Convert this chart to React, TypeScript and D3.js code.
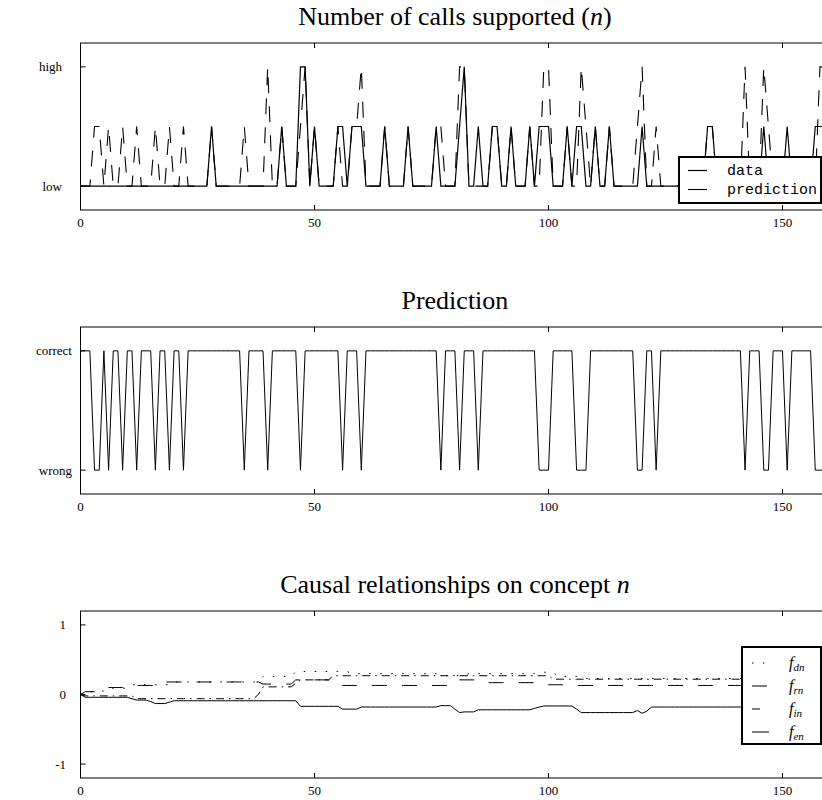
import React from "react";
import * as d3 from "d3";

// ---- data ---------------------------------------------------------------
// time steps 0..159
const steps: number[] = d3.range(0, 160);

// number of calls supported: 0 = low, 0.5 = medium, 1 = high
const callsData: number[] = [
  0, 0, 0, 0, 0, 0, 0, 0, 0, 0,
  0, 0, 0, 0, 0, 0, 0, 0, 0, 0,
  0, 0, 0, 0, 0, 0, 0, 0, 0.5, 0,
  0, 0, 0, 0, 0, 0, 0, 0, 0, 0,
  0, 0, 0, 0.5, 0, 0, 0, 1, 1, 0,
  0.5, 0, 0, 0, 0, 0.5, 0.5, 0, 0.5, 0.5,
  0.5, 0, 0, 0, 0, 0.5, 0, 0, 0, 0,
  0.5, 0, 0, 0, 0, 0, 0.5, 0, 0, 0,
  0, 0.5, 1, 0, 0, 0.5, 0, 0, 0.5, 0.5,
  0, 0, 0.5, 0, 0, 0, 0.5, 0, 0.5, 0.5,
  0.5, 0, 0, 0, 0.5, 0, 0.5, 0.5, 0, 0,
  0.5, 0, 0, 0.5, 0, 0, 0, 0, 0, 0,
  0.5, 0, 0, 0, 0, 0, 0, 0, 0, 0,
  0, 0, 0, 0, 0.5, 0.5, 0, 0, 0, 0,
  0, 0, 0, 0, 0, 0, 0.5, 0, 0, 0,
  0, 0.5, 0, 0, 0, 0, 0, 0.5, 0.5, 0.5,
];

const callsPrediction: number[] = [
  0, 0, 0, 0.5, 0.5, 0, 0.5, 0, 0, 0.5,
  0, 0, 0.5, 0, 0, 0, 0.5, 0, 0, 0.5,
  0, 0, 0.5, 0, 0, 0, 0, 0, 0.5, 0,
  0, 0, 0, 0, 0, 0.5, 0, 0, 0, 0,
  1, 0, 0, 0.5, 0, 0, 0, 0.5, 1, 0,
  0.5, 0, 0, 0, 0, 0.5, 0, 0, 0.5, 0.5,
  1, 0, 0, 0, 0, 0.5, 0, 0, 0, 0,
  0.5, 0, 0, 0, 0, 0, 0.5, 0.5, 0, 0,
  0, 1, 1, 0, 0, 0, 0, 0, 0.5, 0.5,
  0, 0, 0.5, 0, 0, 0, 0.5, 0, 0, 1,
  1, 0, 0, 0, 0.5, 0, 0, 1, 0.5, 0,
  0.5, 0, 0, 0.5, 0, 0, 0, 0, 0, 0.5,
  1, 0, 0, 0.5, 0, 0, 0, 0, 0, 0,
  0, 0, 0, 0, 0.5, 0.5, 0, 0, 0, 0,
  0, 0, 1, 0, 0, 0, 1, 0.5, 0, 0,
  0, 0, 0, 0, 0, 0, 0, 0, 1, 1,
];

// causal weights on concept n
const fDn: number[] = [
  0, 0.02, 0.03, 0.05, 0.05, 0.05, 0.05, 0.09, 0.09, 0.09,
  0.09, 0.14, 0.14, 0.14, 0.14, 0.14, 0.14, 0.14, 0.14, 0.14,
  0.18, 0.18, 0.18, 0.18, 0.18, 0.18, 0.18, 0.18, 0.18, 0.18,
  0.18, 0.18, 0.18, 0.18, 0.18, 0.18, 0.18, 0.18, 0.18, 0.26,
  0.26, 0.26, 0.26, 0.26, 0.26, 0.26, 0.33, 0.33, 0.33, 0.33,
  0.33, 0.33, 0.33, 0.33, 0.33, 0.33, 0.33, 0.33, 0.3, 0.3,
  0.3, 0.3, 0.3, 0.3, 0.3, 0.3, 0.3, 0.3, 0.3, 0.3,
  0.3, 0.3, 0.3, 0.3, 0.3, 0.3, 0.3, 0.27, 0.27, 0.27,
  0.27, 0.27, 0.27, 0.3, 0.3, 0.3, 0.3, 0.3, 0.3, 0.3,
  0.3, 0.3, 0.3, 0.3, 0.3, 0.3, 0.3, 0.3, 0.32, 0.32,
  0.32, 0.32, 0.26, 0.26, 0.26, 0.26, 0.26, 0.23, 0.23, 0.23,
  0.23, 0.23, 0.23, 0.23, 0.23, 0.23, 0.23, 0.23, 0.23, 0.23,
  0.23, 0.23, 0.23, 0.23, 0.23, 0.23, 0.23, 0.23, 0.23, 0.23,
  0.23, 0.23, 0.23, 0.23, 0.23, 0.23, 0.23, 0.23, 0.23, 0.23,
  0.23, 0.23, 0.23, 0.23, 0.23, 0.23, 0.23, 0.23, 0.23, 0.23,
  0.23, 0.23, 0.23, 0.23, 0.23, 0.23, 0.23, 0.23, 0.23, 0.23,
];

const fRn: number[] = [
  0, 0.04, 0.04, 0.04, 0.04, 0.04, 0.1, 0.1, 0.1, 0.1,
  0.1, 0.13, 0.13, 0.13, 0.13, 0.13, 0.13, 0.13, 0.18, 0.18,
  0.18, 0.18, 0.18, 0.18, 0.18, 0.18, 0.18, 0.18, 0.18, 0.18,
  0.18, 0.18, 0.18, 0.18, 0.18, 0.18, 0.18, 0.18, 0.18, 0.15,
  0.15, 0.15, 0.15, 0.15, 0.15, 0.15, 0.21, 0.21, 0.21, 0.21,
  0.21, 0.21, 0.21, 0.21, 0.21, 0.13, 0.13, 0.13, 0.13, 0.13,
  0.13, 0.13, 0.13, 0.13, 0.13, 0.13, 0.13, 0.13, 0.13, 0.13,
  0.13, 0.13, 0.13, 0.13, 0.13, 0.13, 0.13, 0.13, 0.13, 0.13,
  0.21, 0.21, 0.21, 0.21, 0.21, 0.21, 0.17, 0.17, 0.17, 0.17,
  0.17, 0.17, 0.17, 0.17, 0.17, 0.17, 0.17, 0.17, 0.14, 0.14,
  0.14, 0.14, 0.14, 0.14, 0.14, 0.14, 0.13, 0.13, 0.13, 0.13,
  0.13, 0.13, 0.13, 0.13, 0.13, 0.13, 0.13, 0.13, 0.13, 0.13,
  0.13, 0.13, 0.13, 0.13, 0.13, 0.13, 0.13, 0.13, 0.13, 0.13,
  0.13, 0.13, 0.13, 0.13, 0.13, 0.13, 0.13, 0.13, 0.13, 0.13,
  0.13, 0.13, 0.13, 0.13, 0.13, 0.13, 0.13, 0.13, 0.13, 0.13,
  0.13, 0.13, 0.13, 0.13, 0.13, 0.13, 0.13, 0.13, 0.13, 0.13,
];

const fIn: number[] = [
  0, -0.02, -0.02, -0.02, -0.02, -0.02, -0.02, -0.02, -0.02, -0.02,
  -0.02, -0.02, -0.06, -0.06, -0.06, -0.06, -0.06, -0.06, -0.06, -0.06,
  -0.06, -0.06, -0.06, -0.06, -0.06, -0.06, -0.06, -0.06, -0.06, -0.06,
  -0.06, -0.06, -0.06, -0.06, -0.06, -0.06, -0.06, -0.06, 0, 0.11,
  0.11, 0.11, 0.11, 0.11, 0.11, 0.11, 0.16, 0.21, 0.21, 0.21,
  0.21, 0.21, 0.21, 0.21, 0.27, 0.27, 0.27, 0.27, 0.27, 0.27,
  0.27, 0.27, 0.27, 0.27, 0.27, 0.27, 0.27, 0.27, 0.27, 0.27,
  0.27, 0.27, 0.27, 0.27, 0.27, 0.27, 0.27, 0.27, 0.27, 0.27,
  0.27, 0.27, 0.27, 0.27, 0.27, 0.27, 0.27, 0.27, 0.27, 0.27,
  0.27, 0.27, 0.27, 0.27, 0.27, 0.27, 0.27, 0.27, 0.27, 0.27,
  0.27, 0.22, 0.22, 0.22, 0.22, 0.22, 0.22, 0.22, 0.22, 0.22,
  0.22, 0.22, 0.22, 0.22, 0.22, 0.22, 0.22, 0.22, 0.22, 0.22,
  0.22, 0.22, 0.22, 0.22, 0.22, 0.22, 0.22, 0.22, 0.22, 0.22,
  0.22, 0.22, 0.22, 0.22, 0.22, 0.22, 0.22, 0.22, 0.22, 0.22,
  0.22, 0.22, 0.22, 0.22, 0.22, 0.22, 0.22, 0.22, 0.22, 0.22,
  0.22, 0.22, 0.22, 0.22, 0.22, 0.22, 0.22, 0.22, 0.22, 0.22,
];

const fEn: number[] = [
  0, -0.04, -0.04, -0.04, -0.04, -0.04, -0.04, -0.04, -0.04, -0.04,
  -0.04, -0.06, -0.08, -0.08, -0.08, -0.1, -0.13, -0.13, -0.13, -0.11,
  -0.09, -0.09, -0.09, -0.09, -0.09, -0.09, -0.09, -0.09, -0.09, -0.09,
  -0.09, -0.09, -0.09, -0.09, -0.09, -0.09, -0.09, -0.09, -0.09, -0.09,
  -0.09, -0.09, -0.09, -0.09, -0.09, -0.09, -0.09, -0.17, -0.17, -0.17,
  -0.17, -0.17, -0.17, -0.17, -0.17, -0.17, -0.21, -0.21, -0.21, -0.21,
  -0.18, -0.18, -0.18, -0.18, -0.18, -0.18, -0.18, -0.18, -0.18, -0.18,
  -0.18, -0.18, -0.18, -0.18, -0.18, -0.18, -0.18, -0.16, -0.16, -0.16,
  -0.21, -0.26, -0.25, -0.25, -0.25, -0.22, -0.22, -0.22, -0.22, -0.22,
  -0.22, -0.22, -0.22, -0.22, -0.22, -0.22, -0.22, -0.2, -0.18, -0.165,
  -0.165, -0.165, -0.165, -0.165, -0.165, -0.165, -0.21, -0.26, -0.26, -0.26,
  -0.26, -0.26, -0.26, -0.26, -0.26, -0.26, -0.26, -0.26, -0.26, -0.23,
  -0.27, -0.24, -0.18, -0.18, -0.18, -0.18, -0.18, -0.18, -0.18, -0.18,
  -0.18, -0.18, -0.18, -0.18, -0.18, -0.18, -0.18, -0.18, -0.18, -0.18,
  -0.18, -0.18, -0.18, -0.18, -0.18, -0.18, -0.18, -0.18, -0.18, -0.18,
  -0.18, -0.18, -0.18, -0.18, -0.18, -0.18, -0.18, -0.18, -0.18, -0.18,
];

// ticks and labels
const xTickValues: number[] = [0, 50, 100, 150];
const callTickValues: number[] = [0, 1];
const callTickLabels: string[] = ["low", "high"];
const predTickValues: number[] = [0, 1];
const predTickLabels: string[] = ["wrong", "correct"];
const causalTickValues: number[] = [-1, 0, 1];
const causalTickLabels: string[] = ["-1", "0", "1"];
const callLegend: string[] = ["data", "prediction"];
const causalLegendSubs: string[] = ["dn", "rn", "in", "en"];

// ---- layout --------------------------------------------------------------
const W = 822;
const H = 800;
const LEFT = 80.5;
const RIGHT = 829.3;
const SERIF = "'Liberation Serif', 'Times New Roman', serif";
const MONO = "'Liberation Mono', 'Courier New', monospace";
const TITLE_SIZE = 26;
const TICK_SIZE = 13;

const x = d3.scaleLinear().domain([0, 160]).range([LEFT, RIGHT]);

type PanelProps = {
  id: string;
  top: number;
  bottom: number;
  y: d3.ScaleLinear<number, number>;
  yTicks: number[];
  yLabels: string[];
  labelRight: number;
  children?: React.ReactNode;
};

function Panel({ id, top, bottom, y, yTicks, yLabels, labelRight, children }: PanelProps) {
  const tickLen = 5;
  return (
    <g>
      <defs>
        <clipPath id={id}>
          <rect x={LEFT} y={top} width={RIGHT - LEFT} height={bottom - top} />
        </clipPath>
      </defs>
      <g clipPath={`url(#${id})`}>{children}</g>
      <rect x={LEFT} y={top} width={RIGHT - LEFT} height={bottom - top} fill="none" stroke="#000" strokeWidth={1} />
      {xTickValues.map((v) => (
        <g key={`xt${v}`}>
          <line x1={x(v)} x2={x(v)} y1={bottom} y2={bottom - tickLen} stroke="#000" strokeWidth={1} />
          <line x1={x(v)} x2={x(v)} y1={top} y2={top + tickLen} stroke="#000" strokeWidth={1} />
          <text x={x(v)} y={bottom + 17} textAnchor="middle" fontFamily={SERIF} fontSize={TICK_SIZE}>
            {v}
          </text>
        </g>
      ))}
      {yTicks.map((v, i) => (
        <g key={`yt${v}`}>
          <line x1={LEFT} x2={LEFT + tickLen} y1={y(v)} y2={y(v)} stroke="#000" strokeWidth={1} />
          <line x1={RIGHT} x2={RIGHT - tickLen} y1={y(v)} y2={y(v)} stroke="#000" strokeWidth={1} />
          <text x={labelRight} y={y(v) + 4.5} textAnchor="end" fontFamily={SERIF} fontSize={TICK_SIZE}>
            {yLabels[i]}
          </text>
        </g>
      ))}
    </g>
  );
}

function linePath(values: number[], y: d3.ScaleLinear<number, number>): string {
  const gen = d3
    .line<number>()
    .x((_, i) => x(steps[i]))
    .y((d) => y(d));
  return gen(values) || "";
}

export default function App() {
  const yCalls = d3.scaleLinear().domain([-0.2, 1.2]).range([210, 43]);
  const yPred = d3.scaleLinear().domain([-0.2, 1.2]).range([494, 327]);
  const yCausal = d3.scaleLinear().domain([-1.2, 1.2]).range([778, 611]);

  // 1 where the prediction equals the observed value, 0 otherwise
  const correctness = callsData.map((d, i) => (d === callsPrediction[i] ? 1 : 0));

  const causalSeries = [
    { values: fDn, dash: "1.5,9.5", sample: 17 },
    { values: fRn, dash: "15,15", sample: 17 },
    { values: fIn, dash: "8,5,1.5,5", sample: 8 },
    { values: fEn, dash: "none", sample: 17 },
  ];

  const predDash = "16,13";
  const cx = (LEFT + RIGHT) / 2;

  return (
    <svg
      width={W}
      height={H}
      viewBox={`0 0 ${W} ${H}`}
      style={{ position: "absolute", left: 0, top: 0, background: "#fff" }}
    >
      <rect x={0} y={0} width={W} height={H} fill="#fff" />

      {/* Number of calls supported */}
      <text x={cx} y={25} textAnchor="middle" fontFamily={SERIF} fontSize={TITLE_SIZE}>
        Number of calls supported (<tspan fontStyle="italic">n</tspan>)
      </text>
      <Panel
        id="clipCalls"
        top={43}
        bottom={210}
        y={yCalls}
        yTicks={callTickValues}
        yLabels={callTickLabels}
        labelRight={62}
      >
        <path d={linePath(callsData, yCalls)} fill="none" stroke="#000" strokeWidth={1.2} />
        <path
          d={linePath(callsPrediction, yCalls)}
          fill="none"
          stroke="#000"
          strokeWidth={1.1}
          strokeDasharray={predDash}
        />
      </Panel>
      <g>
        <rect x={679} y={157} width={142} height={46} fill="#fff" stroke="#000" strokeWidth={2} />
        <line x1={688} x2={707} y1={170.5} y2={170.5} stroke="#000" strokeWidth={1.2} />
        <line x1={688} x2={707} y1={189.5} y2={189.5} stroke="#000" strokeWidth={1.1} strokeDasharray="19,10" />
        {callLegend.map((t, i) => (
          <text key={t} x={727} y={175 + i * 19} fontFamily={MONO} fontSize={15}>
            {t}
          </text>
        ))}
      </g>

      {/* Prediction */}
      <text x={cx} y={309} textAnchor="middle" fontFamily={SERIF} fontSize={TITLE_SIZE}>
        Prediction
      </text>
      <Panel
        id="clipPred"
        top={327}
        bottom={494}
        y={yPred}
        yTicks={predTickValues}
        yLabels={predTickLabels}
        labelRight={72}
      >
        <path d={linePath(correctness, yPred)} fill="none" stroke="#000" strokeWidth={1} />
      </Panel>

      {/* Causal relationships */}
      <text x={cx} y={593} textAnchor="middle" fontFamily={SERIF} fontSize={TITLE_SIZE}>
        Causal relationships on concept <tspan fontStyle="italic">n</tspan>
      </text>
      <Panel
        id="clipCausal"
        top={611}
        bottom={778}
        y={yCausal}
        yTicks={causalTickValues}
        yLabels={causalTickLabels}
        labelRight={66}
      >
        {causalSeries.map((s, i) => (
          <path
            key={i}
            d={linePath(s.values, yCausal)}
            fill="none"
            stroke="#000"
            strokeWidth={1}
            strokeDasharray={s.dash}
          />
        ))}
      </Panel>
      <g>
        <rect x={742} y={647} width={79} height={97} fill="#fff" stroke="#000" strokeWidth={2} />
        {causalSeries.map((s, i) => (
          <g key={i}>
            <line
              x1={752}
              x2={752 + s.sample}
              y1={663 + i * 23}
              y2={663 + i * 23}
              stroke="#000"
              strokeWidth={1}
              strokeDasharray={s.dash}
            />
            <text x={789} y={668 + i * 23} fontFamily={SERIF} fontSize={16} fontStyle="italic">
              f
              <tspan fontSize={11} dy={3}>
                {causalLegendSubs[i]}
              </tspan>
            </text>
          </g>
        ))}
      </g>
    </svg>
  );
}
